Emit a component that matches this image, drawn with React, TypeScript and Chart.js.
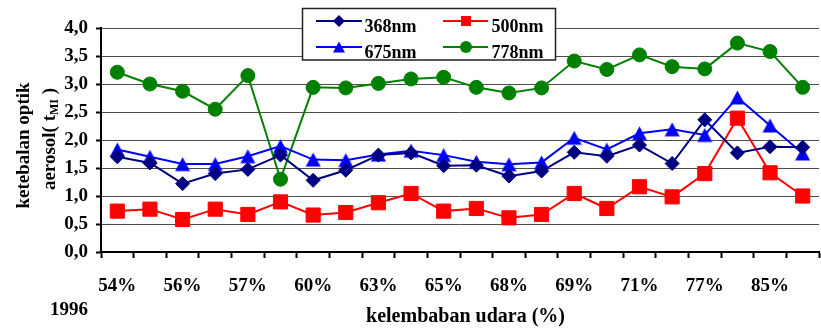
import React, { useEffect, useRef } from 'react';
import { Chart, registerables } from 'chart.js';

Chart.register(...registerables);

// ---- data ----
const categories = ['54%', '', '56%', '', '57%', '', '60%', '', '63%', '', '65%', '', '68%', '', '69%', '', '71%', '', '77%', '', '85%', ''];
const s368 = [1.7, 1.59, 1.22, 1.4, 1.475, 1.73, 1.28, 1.46, 1.73, 1.77, 1.54, 1.55, 1.355, 1.445, 1.78, 1.71, 1.91, 1.58, 2.36, 1.77, 1.88, 1.87];
const s500 = [0.73, 0.765, 0.58, 0.765, 0.67, 0.895, 0.66, 0.705, 0.88, 1.045, 0.73, 0.777, 0.61, 0.67, 1.045, 0.777, 1.165, 0.985, 1.4, 2.39, 1.415, 1.0];
const s675 = [1.83, 1.7, 1.57, 1.57, 1.71, 1.89, 1.65, 1.64, 1.74, 1.81, 1.73, 1.61, 1.565, 1.6, 2.04, 1.83, 2.12, 2.19, 2.09, 2.76, 2.26, 1.76];
const s778 = [3.21, 3.0, 2.87, 2.55, 3.15, 1.3, 2.94, 2.93, 3.01, 3.09, 3.12, 2.94, 2.84, 2.93, 3.41, 3.26, 3.52, 3.31, 3.27, 3.73, 3.58, 2.94];
const seriesNames = ['368nm', '500nm', '675nm', '778nm'];
const seriesColors = ['#000080', '#FF0000', '#0000FF', '#008000'];
const yMin = 0;
const yMax = 4;
const yStep = 0.5;
const yTitleLine1 = 'ketebalan optik';
const yTitleLine2 = ['aerosol( t', 'MI', ' )'];
const xTitle = 'kelembaban udara (%)';
const yearLabel = '1996';

const FONT = '"Liberation Serif", "Times New Roman", serif';

function makeTriangle(color: string, w: number, h: number) {
  const c = document.createElement('canvas');
  const size = Math.ceil(Math.max(w, h)) + 2;
  c.width = size;
  c.height = size;
  const g = c.getContext('2d')!;
  const cx = size / 2;
  const cy = size / 2;
  g.fillStyle = color;
  g.beginPath();
  g.moveTo(cx, cy - h / 2);
  g.lineTo(cx + w / 2, cy + h / 2);
  g.lineTo(cx - w / 2, cy + h / 2);
  g.closePath();
  g.fill();
  return c;
}

function drawMarker(ctx: CanvasRenderingContext2D, kind: string, x: number, y: number, color: string) {
  ctx.fillStyle = color;
  ctx.beginPath();
  if (kind === 'diamond') {
    const r = 6;
    ctx.moveTo(x, y - r);
    ctx.lineTo(x + r, y);
    ctx.lineTo(x, y + r);
    ctx.lineTo(x - r, y);
  } else if (kind === 'square') {
    const r = 5;
    ctx.rect(x - r, y - r, 2 * r, 2 * r);
  } else if (kind === 'triangle') {
    const w = 12;
    const h = 11;
    ctx.moveTo(x, y - h / 2);
    ctx.lineTo(x + w / 2, y + h / 2);
    ctx.lineTo(x - w / 2, y + h / 2);
  } else {
    ctx.arc(x, y, 6, 0, Math.PI * 2);
  }
  ctx.closePath();
  ctx.fill();
}

const decorPlugin = {
  id: 'decor',
  afterDraw(chart: any) {
    const ctx: CanvasRenderingContext2D = chart.ctx;
    ctx.save();
    ctx.fillStyle = '#000';

    // y-axis title, line 1
    ctx.save();
    ctx.font = `bold 19px ${FONT}`;
    ctx.translate(29, 145.5);
    ctx.rotate(-Math.PI / 2);
    ctx.textAlign = 'center';
    ctx.textBaseline = 'alphabetic';
    ctx.fillText(yTitleLine1, 0, 0);
    ctx.restore();

    // y-axis title, line 2 (with subscript)
    ctx.save();
    ctx.translate(55, 139);
    ctx.rotate(-Math.PI / 2);
    ctx.textBaseline = 'alphabetic';
    ctx.textAlign = 'left';
    const mainFont = `bold 19px ${FONT}`;
    const subFont = `bold 12px ${FONT}`;
    ctx.font = mainFont;
    const w0 = ctx.measureText(yTitleLine2[0]).width;
    const w2 = ctx.measureText(yTitleLine2[2]).width;
    ctx.font = subFont;
    const w1 = ctx.measureText(yTitleLine2[1]).width;
    let px = -(w0 + w1 + w2) / 2;
    ctx.font = mainFont;
    ctx.fillText(yTitleLine2[0], px, 0);
    px += w0;
    ctx.font = subFont;
    ctx.fillText(yTitleLine2[1], px, 3);
    px += w1;
    ctx.font = mainFont;
    ctx.fillText(yTitleLine2[2], px, 0);
    ctx.restore();

    // x-axis title
    ctx.font = `bold 20px ${FONT}`;
    ctx.textAlign = 'center';
    ctx.textBaseline = 'alphabetic';
    ctx.fillText(xTitle, 465.5, 322);

    // year label
    ctx.font = `bold 19px ${FONT}`;
    ctx.textAlign = 'left';
    ctx.fillText(yearLabel, 50, 315);

    // legend
    ctx.fillStyle = '#fff';
    ctx.fillRect(302.5, 8.5, 253, 51.5);
    ctx.strokeStyle = '#222';
    ctx.lineWidth = 1.5;
    ctx.strokeRect(302.5, 8.5, 253, 51.5);
    const kinds = ['diamond', 'square', 'triangle', 'circle'];
    const cols = [
      { x0: 316, x1: 362, mx: 339, tx: 364.5 },
      { x0: 443, x1: 488, mx: 466, tx: 491.5 },
    ];
    const rows = [21, 47];
    ctx.font = `bold 18px ${FONT}`;
    ctx.textAlign = 'left';
    ctx.textBaseline = 'alphabetic';
    for (let i = 0; i < 4; i++) {
      const col = cols[i % 2];
      const ry = rows[Math.floor(i / 2)];
      ctx.strokeStyle = seriesColors[i];
      ctx.lineWidth = 2;
      ctx.beginPath();
      ctx.moveTo(col.x0, ry);
      ctx.lineTo(col.x1, ry);
      ctx.stroke();
      drawMarker(ctx, kinds[i], col.mx, ry, seriesColors[i]);
      ctx.fillStyle = '#000';
      ctx.fillText(seriesNames[i], col.tx, ry + 10.5);
    }
    ctx.restore();
  },
};

export default function App() {
  const ref = useRef<HTMLCanvasElement | null>(null);

  useEffect(() => {
    if (!ref.current) return;
    const tri = makeTriangle(seriesColors[2], 15, 14);
    const chart = new Chart(ref.current, {
      type: 'line',
      data: {
        labels: categories,
        datasets: [
          {
            label: seriesNames[0],
            data: s368,
            borderColor: seriesColors[0],
            backgroundColor: seriesColors[0],
            borderWidth: 2,
            pointStyle: 'rectRot',
            pointRadius: 7,
            pointBorderWidth: 1,
            pointBorderColor: seriesColors[0],
            pointBackgroundColor: seriesColors[0],
            tension: 0,
          },
          {
            label: seriesNames[1],
            data: s500,
            borderColor: seriesColors[1],
            backgroundColor: seriesColors[1],
            borderWidth: 2,
            pointStyle: 'rect',
            pointRadius: 10,
            pointBorderWidth: 1,
            pointBorderColor: seriesColors[1],
            pointBackgroundColor: seriesColors[1],
            tension: 0,
          },
          {
            label: seriesNames[2],
            data: s675,
            borderColor: seriesColors[2],
            backgroundColor: seriesColors[2],
            borderWidth: 2,
            pointStyle: tri as any,
            pointRadius: 8,
            tension: 0,
          },
          {
            label: seriesNames[3],
            data: s778,
            borderColor: seriesColors[3],
            backgroundColor: seriesColors[3],
            borderWidth: 2,
            pointStyle: 'circle',
            pointRadius: 7,
            pointBorderWidth: 1,
            pointBorderColor: seriesColors[3],
            pointBackgroundColor: seriesColors[3],
            tension: 0,
          },
        ],
      },
      options: {
        responsive: false,
        animation: false,
        events: [],
        layout: { padding: { top: 28, left: 0, right: 0, bottom: 0 } },
        plugins: {
          legend: { display: false },
          tooltip: { enabled: false },
          title: { display: false },
        },
        scales: {
          x: {
            type: 'category',
            offset: true,
            afterFit: (scale: any) => {
              scale.height = 77;
            },
            grid: {
              display: true,
              drawOnChartArea: false,
              drawTicks: true,
              tickLength: 6,
              offset: true,
              color: '#000',
              tickColor: '#000',
              tickWidth: 2,
            },
            border: { display: true, color: '#000', width: 2 },
            ticks: {
              autoSkip: false,
              maxRotation: 0,
              minRotation: 0,
              padding: 17,
              color: '#000',
              font: { family: FONT, size: 19, weight: 'bold' },
            },
          },
          y: {
            min: yMin,
            max: yMax,
            afterFit: (scale: any) => {
              scale.width = 101;
            },
            grid: {
              color: '#4d4d4d',
              lineWidth: 1,
              drawTicks: true,
              tickLength: 5,
              tickColor: '#000',
              tickWidth: 2,
            },
            border: { display: true, color: '#000', width: 2 },
            ticks: {
              stepSize: yStep,
              padding: 8,
              color: '#000',
              font: { family: FONT, size: 19, weight: 'bold' },
              callback: (v: any) => Number(v).toFixed(1).replace('.', ','),
            },
          },
        },
      },
      plugins: [decorPlugin],
    } as any);
    return () => chart.destroy();
  }, []);

  return (
    <div style={{ position: 'absolute', left: 0, top: 0, width: 821, height: 329, overflow: 'hidden', background: '#fff' }}>
      <canvas ref={ref} width={830} height={329} style={{ display: 'block', width: 830, height: 329 }} />
    </div>
  );
}
